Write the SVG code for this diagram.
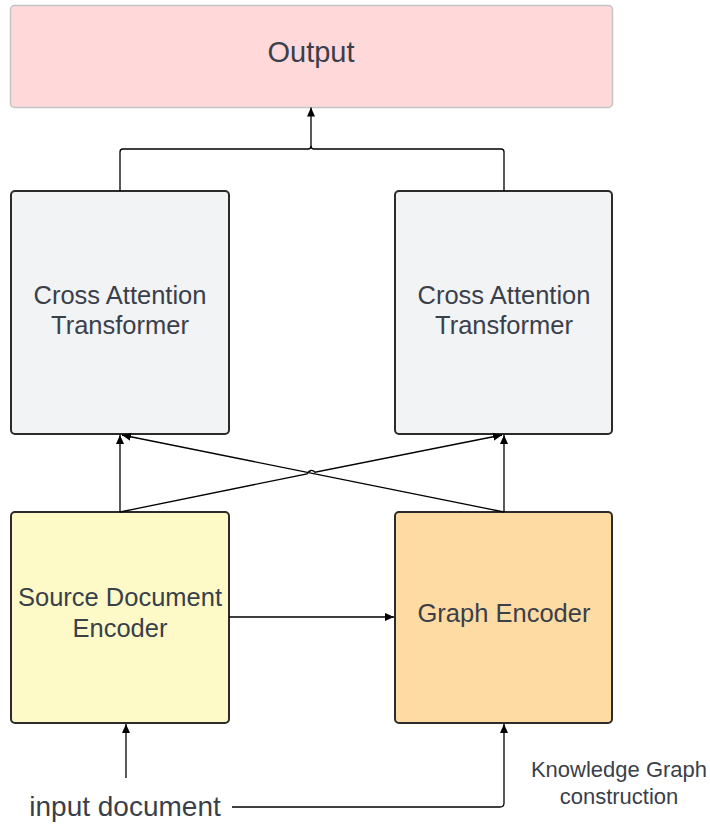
<svg xmlns="http://www.w3.org/2000/svg" width="710" height="825" viewBox="0 0 710 825">
<defs>
<marker id="ah" markerWidth="10" markerHeight="10" refX="9" refY="5" orient="auto" markerUnits="userSpaceOnUse">
<path d="M0,1 L9,5 L0,9 Z" fill="#000"/>
</marker>
<style>
text{font-family:"Liberation Sans",Arial,sans-serif;fill:#3a3f4a;text-anchor:middle}
.box{stroke:#2b2b2b;stroke-width:2}
.c{fill:none;stroke:#000;stroke-width:1.3}
</style>
</defs>
<rect width="710" height="825" fill="#fff"/>
<g id="output">
<rect x="10.5" y="5.5" width="602" height="102" rx="4" fill="#ffd8d9" stroke="#c4c4c4" stroke-width="1.5"/>
<text x="311" y="62" font-size="29">Output</text>
</g>
<g id="cross-left">
<rect class="box" x="11" y="191" width="218" height="243" rx="4" fill="#f2f3f5"/>
<text x="120" y="304" font-size="25.5">Cross Attention</text>
<text x="120" y="334" font-size="25.5">Transformer</text>
</g>
<g id="cross-right">
<rect class="box" x="395" y="191" width="217" height="243" rx="4" fill="#f2f3f5"/>
<text x="504" y="304" font-size="25.5">Cross Attention</text>
<text x="504" y="334" font-size="25.5">Transformer</text>
</g>
<g id="source-encoder">
<rect class="box" x="11" y="512" width="218" height="211" rx="4" fill="#fdfac8"/>
<text x="120" y="606" font-size="25.5">Source Document</text>
<text x="120" y="637" font-size="25.5">Encoder</text>
</g>
<g id="graph-encoder">
<rect class="box" x="395" y="512" width="217" height="211" rx="4" fill="#fedba2"/>
<text x="504" y="622" font-size="25.5">Graph Encoder</text>
</g>
<g id="labels">
<text x="125" y="816" font-size="28">input document</text>
<text x="619" y="777" font-size="22">Knowledge Graph</text>
<text x="619" y="804" font-size="22">construction</text>
</g>
<g id="connectors">
<path class="c" d="M120,191 V152 Q120,149 123,149 H308 Q311,149 311,146 V107.5" marker-end="url(#ah)"/>
<path class="c" d="M504,191 V152 Q504,149 501,149 H314 Q311,149 311,146"/>
<path class="c" d="M120,512 V435" marker-end="url(#ah)"/>
<path class="c" d="M504,512 V435" marker-end="url(#ah)"/>
<path class="c" d="M120,512 L307,473.8 Q311,468 315,472.2 L502,435" marker-end="url(#ah)"/>
<path class="c" d="M504,512 L122,435" marker-end="url(#ah)"/>
<path class="c" d="M229,617 H394" marker-end="url(#ah)"/>
<path class="c" d="M126,778 V724" marker-end="url(#ah)"/>
<path class="c" d="M232,807 H500 Q504,807 504,803 V724" marker-end="url(#ah)"/>
</g>
</svg>
